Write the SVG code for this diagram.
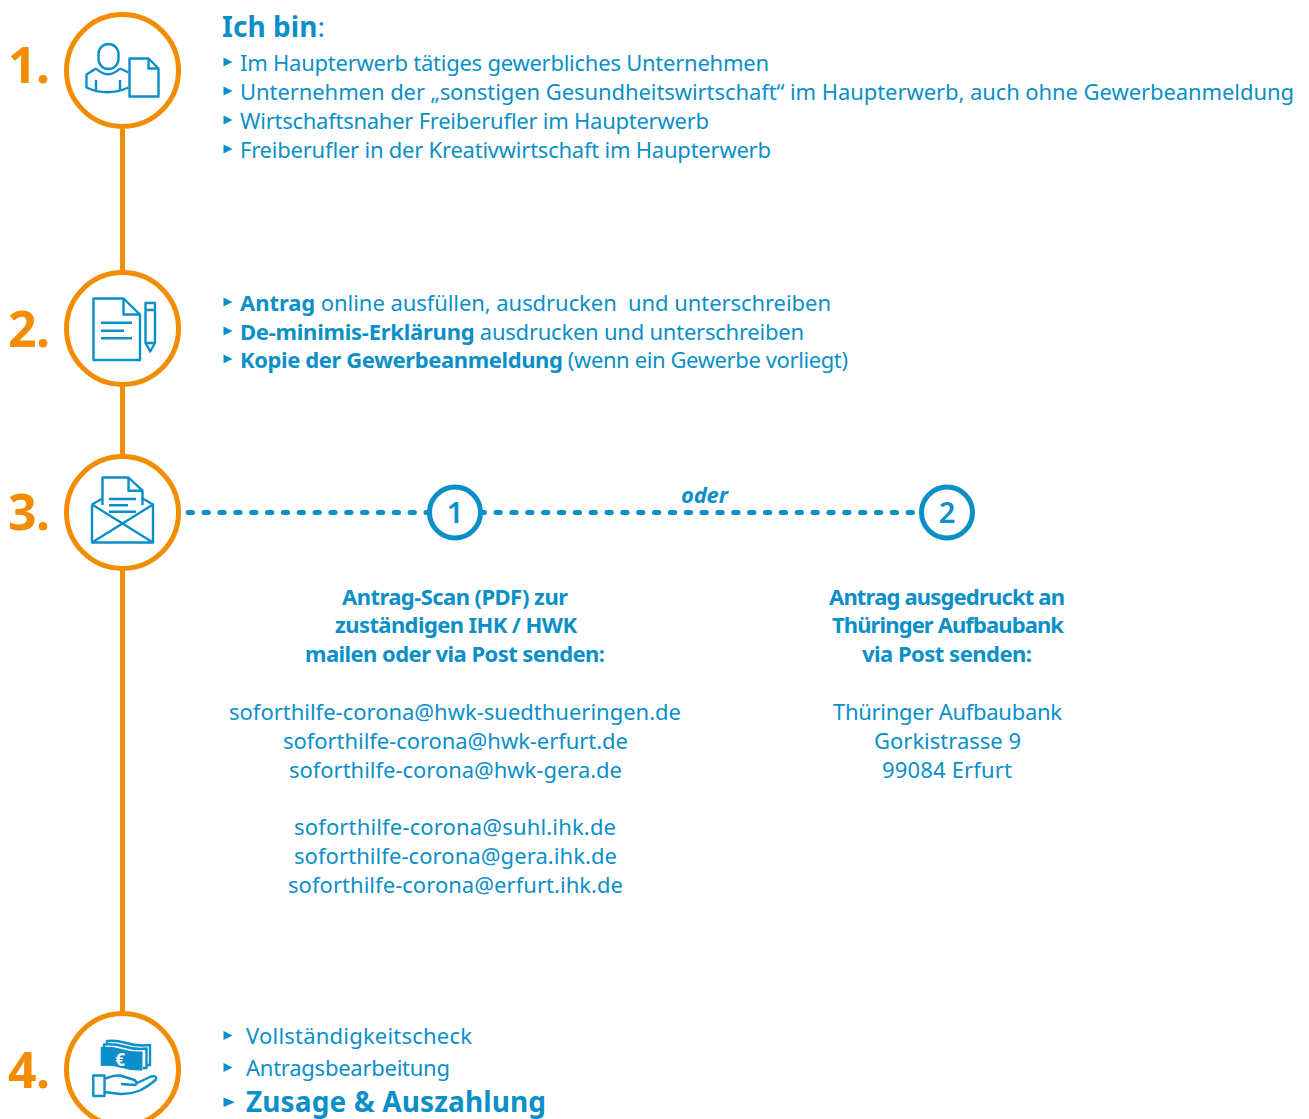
<svg xmlns="http://www.w3.org/2000/svg" width="1309" height="1119" viewBox="0 0 1309 1119">
<style>
text{font-family:"Noto Sans","Open Sans","DejaVu Sans",sans-serif;fill:#0a8fc8}
.t{font-size:22px}
.b{font-weight:700}
.c{text-anchor:middle}
.n{font-size:50px;font-weight:700;fill:#f28c00}
.ring{fill:#fff;stroke:#f28c00;stroke-width:5}
.ring2{fill:#fff;stroke:#0a8fc8;stroke-width:5}
.ic{fill:none;stroke:#0a8fc8;stroke-width:2.4;stroke-linejoin:round}
.tr{fill:#0a8fc8}
.dash{fill:none;stroke:#0a8fc8;stroke-width:5;stroke-linecap:round;stroke-dasharray:4.3 11.55}
</style>
<defs><path id="tri" d="M0,-4.5 L9,0 L0,4.5 Z" class="tr"/></defs>
<rect width="1309" height="1119" fill="#fff"/>
<g id="connectors">
<path d="M122.5,129V1012" fill="none" stroke="#f28c00" stroke-width="5"/>
<path class="dash" d="M188.2,512.5H430"/>
<path class="dash" d="M480.15,512.5H925"/>
</g>
<g id="node1">
<text class="n" x="8" y="83" textLength="42">1.</text>
<circle class="ring" cx="122.5" cy="70.5" r="56"/>
<rect class="ic" x="98.5" y="44" width="20" height="25" rx="10"/>
<path class="ic" d="M96,68.5 L86.5,74.5 V87.5 Q107,97 128.5,87.5 M120,68.5 L128.5,72.5 M96,68.5 Q108,80 120,68.5 M96,80V90.5 M120,80V90"/>
<path class="ic" d="M129.5,58.5 H148.5 L158.5,68.5 V96.5 H129.5 Z M148.5,58.5 V68.5 H158.5"/>
</g>
<g id="node2">
<text class="n" x="8" y="347" textLength="42">2.</text>
<circle class="ring" cx="122.5" cy="328.5" r="56"/>
<path class="ic" d="M93.5,298.5 H123.5 L140,314.5 V360 H93.5 Z M123.5,298.5 V314.5 H140 M101,322.7 H132 M101,330.7 H124 M101,338.3 H132"/>
<path class="ic" d="M145.5,303 H155 V343 L150.2,351.5 L145.5,343 Z M145.5,310 H155 M145.5,343 H155"/>
</g>
<g id="node3">
<text class="n" x="8" y="530" textLength="42">3.</text>
<circle class="ring" cx="122.5" cy="512.5" r="56"/>
<path class="ic" d="M102.5,505 V477.5 H128.5 L142.5,490.7 V505 M128.5,477.5 V490.7 H142.5 M109,499 H136 M109,505.3 H128 M109,511.7 H136"/>
<path class="ic" d="M92,504.5 L102.5,498.5 M153,504.5 L142.5,498.5 M92,504.5 V542.5 H153 V504.5 L92,542.5 M92,504.5 L153,542.5"/>
</g>
<g id="node4">
<text class="n" x="8" y="1088" textLength="42">4.</text>
<circle class="ring" cx="122.5" cy="1069.5" r="56"/>
<path class="ic" d="M107,1044 V1041 Q116,1040 126,1043 Q138,1046.5 150,1045 V1065 H146"/>
<path class="ic" d="M104,1047 V1044.5 Q114,1043.5 124,1046.5 Q136,1050 146.5,1048.5 V1068 H143"/>
<path d="M100.7,1047 Q112,1046 122,1049 Q132,1052 142.5,1051.5 V1070.5 Q132,1071 122,1068 Q111,1065 100.7,1066 Z" fill="#0a8fc8"/>
<text x="120" y="1065.5" font-size="17" font-weight="700" text-anchor="middle" style="fill:#fff">€</text>
<path class="ic" d="M93.3,1075.5 H104.5 V1096 H93.3 Z M104.5,1079 Q113,1075 120,1075.5 L134.5,1080 Q139,1084 134.5,1085 L121,1084 M136,1083.5 L151,1076.5 Q157,1075 156,1079.5 Q150,1085 140,1090.5 Q130,1094.5 120,1094 L104.5,1092"/>
</g>
<g id="text1">
<text x="222" y="37" font-size="28" textLength="103"><tspan class="b">Ich bin</tspan>:</text>
<use href="#tri" x="223.5" y="62"/><text class="t" x="240" y="71" textLength="529">Im Haupterwerb tätiges gewerbliches Unternehmen</text>
<use href="#tri" x="223.5" y="91"/><text class="t" x="240" y="100" textLength="1054">Unternehmen der „sonstigen Gesundheitswirtschaft“ im Haupterwerb, auch ohne Gewerbeanmeldung</text>
<use href="#tri" x="223.5" y="120"/><text class="t" x="240" y="129" textLength="469">Wirtschaftsnaher Freiberufler im Haupterwerb</text>
<use href="#tri" x="223.5" y="149"/><text class="t" x="240" y="158" textLength="531">Freiberufler in der Kreativwirtschaft im Haupterwerb</text>
</g>
<g id="text2">
<use href="#tri" x="223.5" y="302"/><text class="t" x="240" y="311" textLength="591" xml:space="preserve"><tspan class="b">Antrag</tspan> online ausfüllen, ausdrucken  und unterschreiben</text>
<use href="#tri" x="223.5" y="331"/><text class="t" x="240" y="340" textLength="564"><tspan class="b">De-minimis-Erklärung</tspan> ausdrucken und unterschreiben</text>
<use href="#tri" x="223.5" y="359"/><text class="t" x="240" y="368" textLength="608"><tspan class="b">Kopie der Gewerbeanmeldung</tspan> (wenn ein Gewerbe vorliegt)</text>
</g>
<g id="opt1">
<circle class="ring2" cx="455" cy="512.5" r="25.5"/>
<text class="c" x="455" y="523" font-size="29" font-weight="600">1</text>
</g>
<text id="oder" x="681" y="503" font-size="22" class="b" font-style="italic" textLength="47">oder</text>
<g id="opt2">
<circle class="ring2" cx="947" cy="512.5" r="25.5"/>
<text class="c" x="947" y="523" font-size="29" font-weight="600">2</text>
</g>
<g id="text3a">
<text class="t b" x="342" y="605" textLength="226">Antrag-Scan (PDF) zur</text>
<text class="t b" x="335" y="633" textLength="242">zuständigen IHK / HWK</text>
<text class="t b" x="305" y="662" textLength="300">mailen oder via Post senden:</text>
<text class="t" x="229" y="720" textLength="452">soforthilfe-corona@hwk-suedthueringen.de</text>
<text class="t" x="283" y="749" textLength="345">soforthilfe-corona@hwk-erfurt.de</text>
<text class="t" x="289" y="778" textLength="333">soforthilfe-corona@hwk-gera.de</text>
<text class="t" x="294" y="835" textLength="322">soforthilfe-corona@suhl.ihk.de</text>
<text class="t" x="294" y="864" textLength="323">soforthilfe-corona@gera.ihk.de</text>
<text class="t" x="288" y="893" textLength="335">soforthilfe-corona@erfurt.ihk.de</text>
</g>
<g id="text3b">
<text class="t b" x="829" y="605" textLength="236">Antrag ausgedruckt an</text>
<text class="t b" x="832" y="633" textLength="232">Thüringer Aufbaubank</text>
<text class="t b" x="862" y="662" textLength="170">via Post senden:</text>
<text class="t" x="833" y="720" textLength="229">Thüringer Aufbaubank</text>
<text class="t" x="874" y="749" textLength="147">Gorkistrasse 9</text>
<text class="t" x="882" y="778" textLength="130">99084 Erfurt</text>
</g>
<g id="text4">
<use href="#tri" x="223.5" y="1035.5"/><text class="t" x="246" y="1044" textLength="226">Vollständigkeitscheck</text>
<use href="#tri" x="223.5" y="1067.5"/><text class="t" x="246" y="1076" textLength="204">Antragsbearbeitung</text>
<path d="M223.5,1097.5 L235,1102.2 L223.5,1107 Z" class="tr"/><text x="246" y="1112" font-size="28" class="b" textLength="300">Zusage &amp; Auszahlung</text>
</g>
</svg>
